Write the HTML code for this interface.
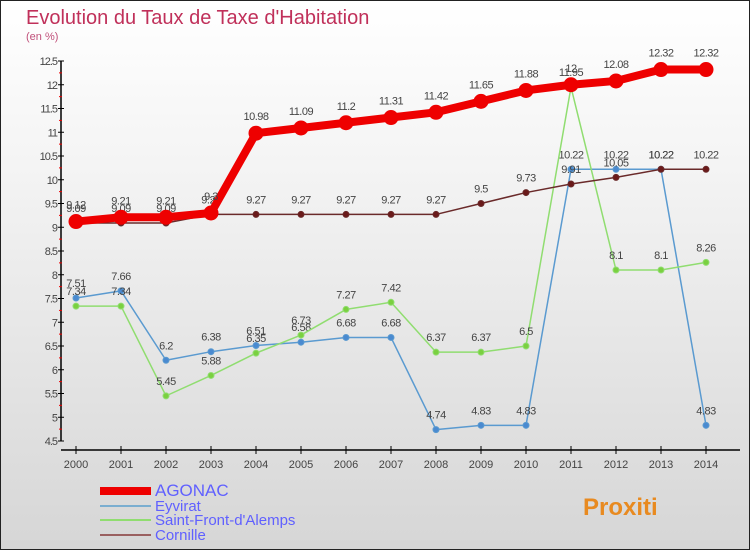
<!DOCTYPE html>
<html><head><meta charset="utf-8"><style>
body{margin:0;width:750px;height:550px;overflow:hidden;font-family:"Liberation Sans",sans-serif}
#c{position:absolute;left:0;top:0;width:748px;height:548px;border:1px solid #222;background:linear-gradient(#ffffff,#f4f4f4 30%,#d6d6d6)}
</style></head><body>
<div id="c">
<svg id="s" width="750" height="550" style="position:absolute;left:-1px;top:-1px">
<text x="26" y="24" font-size="20" fill="#c0305a">Evolution du Taux de Taxe d'Habitation</text>
<text x="26" y="40" font-size="11" fill="#c0507a">(en %)</text>
</svg></div>
<script>
const years=[2000,2001,2002,2003,2004,2005,2006,2007,2008,2009,2010,2011,2012,2013,2014];
const yTicks=[4.5,5,5.5,6,6.5,7,7.5,8,8.5,9,9.5,10,10.5,11,11.5,12,12.5];
const agonac=[9.12,9.21,9.21,9.3,10.98,11.09,11.2,11.31,11.42,11.65,11.88,12,12.08,12.32,12.32];
const eyvirat=[7.51,7.66,6.2,6.38,6.51,6.58,6.68,6.68,4.74,4.83,4.83,10.22,10.22,10.22,4.83];
const saintFront=[7.34,7.34,5.45,5.88,6.35,6.73,7.27,7.42,6.37,6.37,6.5,11.95,8.1,8.1,8.26];
const cornille=[9.09,9.09,9.09,9.27,9.27,9.27,9.27,9.27,9.27,9.5,9.73,9.91,10.05,10.22,10.22];
const seriesNames=["AGONAC","Eyvirat","Saint-Front-d'Alemps","Cornille"];
const NS="http://www.w3.org/2000/svg",s=document.getElementById('s');
const X=y=>76+(y-2000)*45, Y=v=>61+(12.5-v)*47.5;
function el(t,a,p){const e=document.createElementNS(NS,t);for(const k in a)e.setAttribute(k,a[k]);(p||s).appendChild(e);return e;}
function tx(x,y,t,a){const e=el('text',Object.assign({x:x,y:y,'font-size':11,fill:'#444'},a||{}));e.textContent=t;return e;}
const ya=el('line',{x1:61,y1:61,x2:61,y2:441,stroke:'#000','stroke-width':1.5});

const xa=el('line',{x1:61,y1:450,x2:740,y2:450,stroke:'#000','stroke-width':1.5});

yTicks.forEach((v,i)=>{el('line',{x1:58,y1:Y(v),x2:64,y2:Y(v),stroke:'#000'});
 if(i<yTicks.length-1)el('line',{x1:59,y1:Y(v+0.25),x2:62,y2:Y(v+0.25),stroke:'#e00'});
 const t=tx(57,Y(v)+4,String(v),{'text-anchor':'end','letter-spacing':'-1'});
 });
years.forEach(y=>{el('line',{x1:X(y),y1:446,x2:X(y),y2:454,stroke:'#000'});
 const t=tx(X(y),468,String(y),{'text-anchor':'middle'});
 });
function series(d,name,col,w,r,fill,labelOff){
 const g=el('g',{});
 el('polyline',{points:d.map((v,i)=>X(years[i])+','+Y(v)).join(' '),fill:'none',stroke:col,'stroke-width':w,'stroke-linejoin':'round'},g);
 d.forEach((v,i)=>{const c=el('circle',{cx:X(years[i]),cy:Y(v),r:r,fill:fill,stroke:col},g);
  
  tx(X(years[i]),Y(v)+labelOff,String(v),{'text-anchor':'middle','letter-spacing':'-0.5'});});
}
series(eyvirat,'eyvirat','#5a9ad0',1.5,3,'#4a8ad0',-11);
series(saintFront,'saint-front','#90dd70',1.5,3,'#7ad040',-11);
series(cornille,'cornille','#6a2a2a',1.5,3,'#6a1a1a',-11);
series(agonac,'agonac','#ee0000',8,7,'#ee0000',-13);
const lg=[[ '#ee0000',8],['#7aaed0',2],['#90dd70',2],['#9a6060',2]];
seriesNames.forEach((n,i)=>{const yy=[494,509,523,538][i];
 const g=el('g',{});
 el('line',{x1:100,y1:yy-3,x2:151,y2:yy-3,stroke:lg[i][0],'stroke-width':lg[i][1]},g);
 const t=tx(155,yy+2,n,{'font-size':i==0?17:15,fill:'#6060ff'});g.appendChild(t);});
const lo=tx(583,515,'Proxiti',{'font-size':24,'font-weight':'bold',fill:'#e88a20'});

</script>
</body></html>
